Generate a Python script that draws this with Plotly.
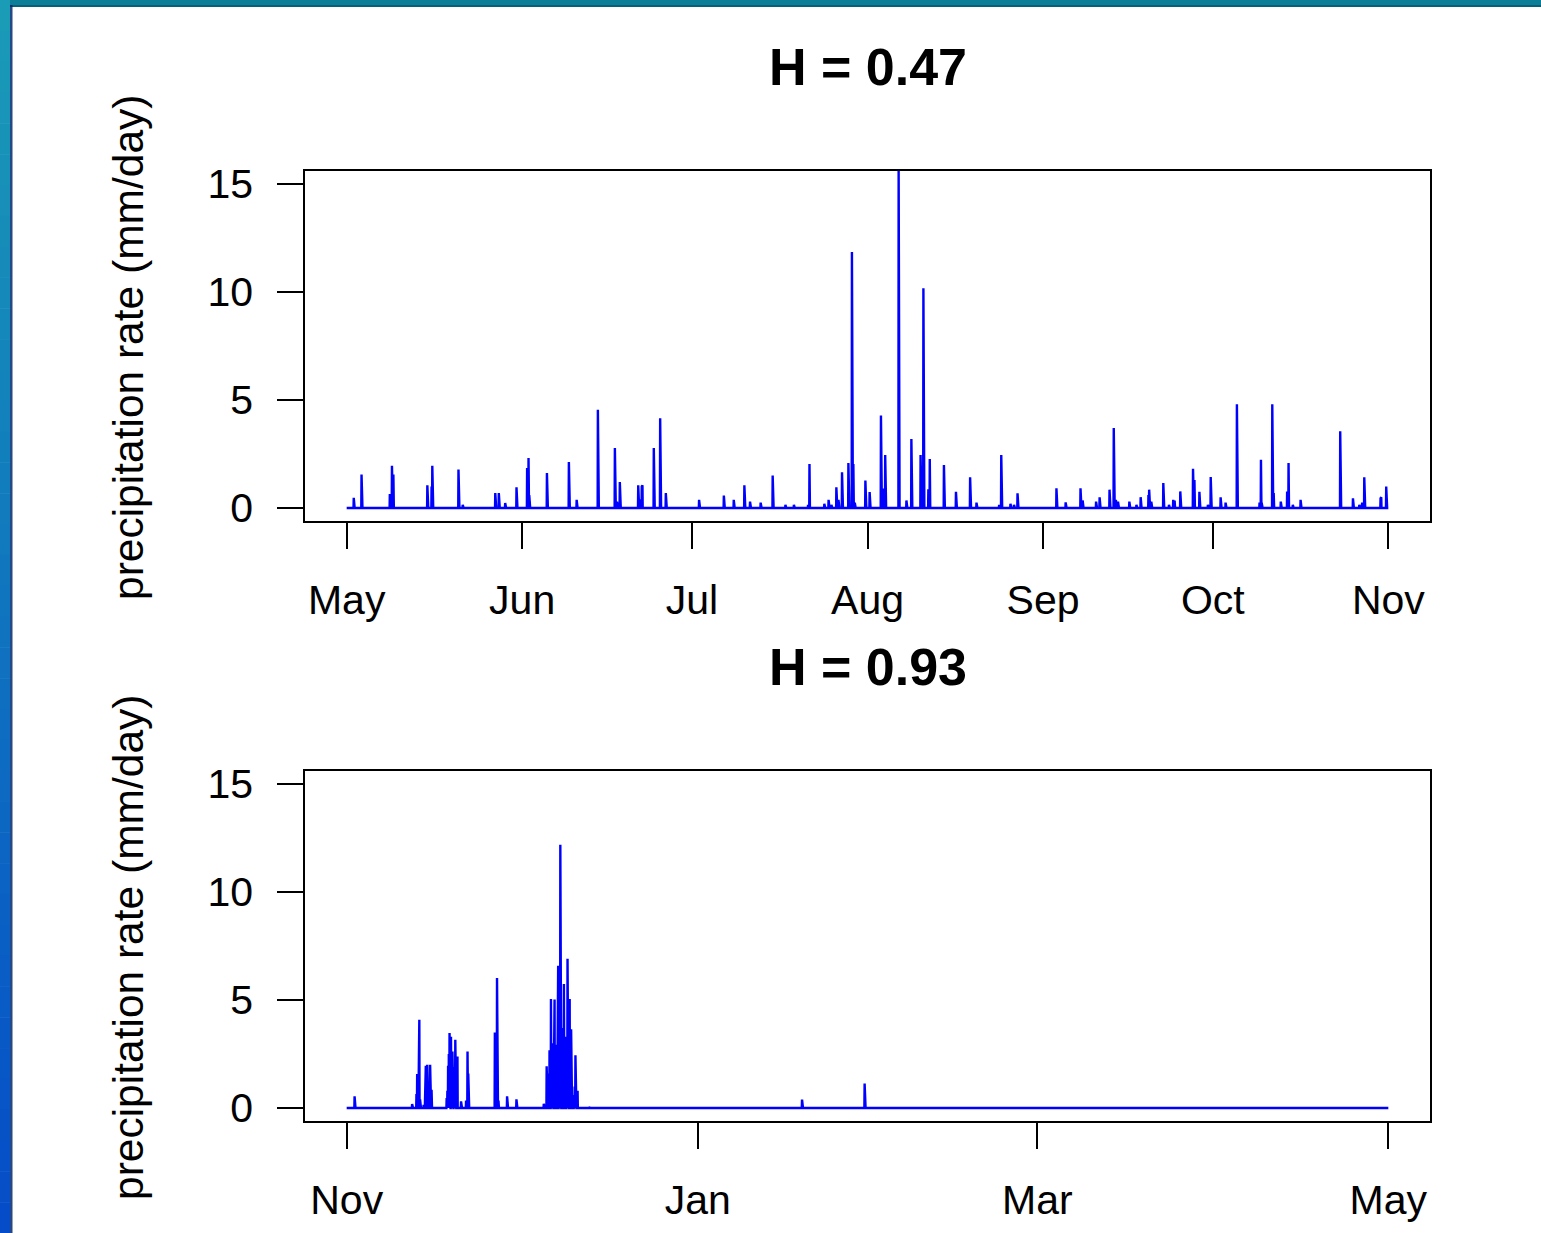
import pandas as pd
import plotly.graph_objects as go

# ---------------- data ----------------
top_title = "H = 0.47"
bottom_title = "H = 0.93"
y_label = "precipitation rate (mm/day)"

top_start, top_end = "2008-05-01", "2008-11-01"
bottom_start, bottom_end = "2008-11-01", "2009-05-01"

top_tick_dates = ["2008-05-01", "2008-06-01", "2008-07-01", "2008-08-01",
                  "2008-09-01", "2008-10-01", "2008-11-01"]
top_tick_labels = ["May", "Jun", "Jul", "Aug", "Sep", "Oct", "Nov"]
bottom_tick_dates = ["2008-11-01", "2009-01-01", "2009-03-01", "2009-05-01"]
bottom_tick_labels = ["Nov", "Jan", "Mar", "May"]
y_ticks = [0, 5, 10, 15]

top_event_times = [
    "2008-05-02 06:00", "2008-05-03 15:00", "2008-05-03 18:00", "2008-05-08 15:00",
    "2008-05-09 00:00", "2008-05-09 06:00", "2008-05-15 06:00", "2008-05-16 00:00",
    "2008-05-16 03:00", "2008-05-20 18:00", "2008-05-20 21:00", "2008-05-21 12:00",
    "2008-05-27 06:00", "2008-05-27 21:00", "2008-05-29 00:00", "2008-05-31 00:00",
    "2008-06-01 21:00", "2008-06-02 03:00", "2008-06-02 06:00", "2008-06-05 09:00",
    "2008-06-09 06:00", "2008-06-10 15:00", "2008-06-14 09:00", "2008-06-14 12:00",
    "2008-06-17 09:00", "2008-06-17 18:00", "2008-06-18 06:00", "2008-06-21 12:00",
    "2008-06-21 18:00", "2008-06-22 03:00", "2008-06-22 06:00", "2008-06-24 06:00",
    "2008-06-25 09:00", "2008-06-26 09:00", "2008-07-02 06:00", "2008-07-06 15:00",
    "2008-07-06 18:00", "2008-07-08 09:00", "2008-07-10 06:00", "2008-07-10 09:00",
    "2008-07-11 06:00", "2008-07-13 03:00", "2008-07-13 06:00", "2008-07-15 06:00",
    "2008-07-15 09:00", "2008-07-17 12:00", "2008-07-19 00:00", "2008-07-21 12:00",
    "2008-07-21 18:00", "2008-07-24 09:00", "2008-07-25 03:00", "2008-07-25 15:00",
    "2008-07-26 12:00", "2008-07-26 21:00", "2008-07-27 12:00", "2008-07-28 15:00",
    "2008-07-28 18:00", "2008-07-29 06:00", "2008-07-29 12:00", "2008-07-29 18:00",
    "2008-07-31 15:00", "2008-08-01 09:00", "2008-08-03 09:00", "2008-08-03 18:00",
    "2008-08-04 03:00", "2008-08-06 12:00", "2008-08-06 15:00", "2008-08-07 21:00",
    "2008-08-08 18:00", "2008-08-08 21:00", "2008-08-10 09:00", "2008-08-10 12:00",
    "2008-08-10 21:00", "2008-08-11 18:00", "2008-08-12 00:00", "2008-08-14 12:00",
    "2008-08-16 15:00", "2008-08-19 03:00", "2008-08-20 06:00", "2008-08-24 06:00",
    "2008-08-24 15:00", "2008-08-24 18:00", "2008-08-26 06:00", "2008-08-26 21:00",
    "2008-08-27 12:00", "2008-09-03 09:00", "2008-09-03 12:00", "2008-09-05 00:00",
    "2008-09-07 15:00", "2008-09-08 00:00", "2008-09-10 09:00", "2008-09-11 00:00",
    "2008-09-12 18:00", "2008-09-13 12:00", "2008-09-13 21:00", "2008-09-14 06:00",
    "2008-09-16 06:00", "2008-09-17 12:00", "2008-09-18 06:00", "2008-09-19 15:00",
    "2008-09-19 18:00", "2008-09-20 03:00", "2008-09-22 06:00", "2008-09-22 09:00",
    "2008-09-23 06:00", "2008-09-24 00:00", "2008-09-24 06:00", "2008-09-25 06:00",
    "2008-09-27 12:00", "2008-09-27 18:00", "2008-09-28 15:00", "2008-09-30 03:00",
    "2008-09-30 15:00", "2008-09-30 18:00", "2008-10-02 09:00", "2008-10-03 06:00",
    "2008-10-05 06:00", "2008-10-09 06:00", "2008-10-09 12:00", "2008-10-09 15:00",
    "2008-10-11 12:00", "2008-10-11 18:00", "2008-10-13 00:00", "2008-10-14 03:00",
    "2008-10-14 09:00", "2008-10-15 03:00", "2008-10-16 12:00", "2008-10-23 12:00",
    "2008-10-25 18:00", "2008-10-26 21:00", "2008-10-27 09:00", "2008-10-27 18:00",
    "2008-10-30 15:00", "2008-10-30 18:00", "2008-10-31 15:00", "2008-10-31 18:00",
]
top_event_values = [
    0.47, 1.55, 1.5, 0.65,
    1.96, 1.55, 1.05, 1.0,
    1.96, 1.78, 0.9, 0.15,
    0.69, 0.69, 0.23, 0.96,
    1.85, 2.31, 0.6, 1.62,
    2.13, 0.38, 4.55, 0.4,
    2.78, 0.3, 1.2, 1.05,
    0.4, 1.0, 1.05, 2.78,
    4.16, 0.69, 0.38, 0.58,
    0.2, 0.38, 1.05, 0.35,
    0.3, 0.25, 0.25, 1.51,
    0.7, 0.15, 0.15, 0.15,
    2.04, 0.2, 0.38, 0.15,
    0.96, 0.38, 1.66, 2.08,
    1.5, 11.85, 2.04, 0.25,
    1.27, 0.74, 4.28, 0.9,
    2.45, 15.6, 0.69, 0.35,
    3.19, 0.6, 2.45, 2.4,
    10.17, 0.87, 2.27, 1.99,
    0.75, 1.42, 0.25, 0.15,
    2.45, 1.25, 0.2, 0.15,
    0.68, 0.91, 0.4, 0.26,
    0.91, 0.35, 0.3, 0.5,
    0.85, 3.7, 0.38, 0.3,
    0.3, 0.15, 0.5, 0.6,
    0.85, 0.3, 1.16, 1.0,
    0.15, 0.38, 0.35, 0.77,
    1.82, 1.3, 0.75, 0.15,
    1.44, 0.4, 0.5, 0.25,
    4.8, 0.25, 2.24, 0.25,
    4.8, 0.69, 0.3, 0.77,
    2.08, 0.15, 0.38, 3.55,
    0.45, 0.15, 0.25, 1.42,
    0.45, 0.5, 1.0, 0.15,
]

bottom_event_times = [
    "2008-11-02 09:00", "2008-11-12 09:00", "2008-11-13 03:00", "2008-11-13 06:00",
    "2008-11-13 12:00", "2008-11-13 15:00", "2008-11-13 18:00", "2008-11-14 09:00",
    "2008-11-14 15:00", "2008-11-14 18:00", "2008-11-14 21:00", "2008-11-15 00:00",
    "2008-11-15 03:00", "2008-11-15 06:00", "2008-11-15 09:00", "2008-11-15 12:00",
    "2008-11-15 18:00", "2008-11-18 09:00", "2008-11-18 12:00", "2008-11-18 15:00",
    "2008-11-18 18:00", "2008-11-18 21:00", "2008-11-19 00:00", "2008-11-19 03:00",
    "2008-11-19 06:00", "2008-11-19 09:00", "2008-11-19 12:00", "2008-11-19 15:00",
    "2008-11-19 18:00", "2008-11-19 21:00", "2008-11-20 00:00", "2008-11-20 03:00",
    "2008-11-20 06:00", "2008-11-20 21:00", "2008-11-21 18:00", "2008-11-22 00:00",
    "2008-11-22 03:00", "2008-11-26 18:00", "2008-11-26 21:00", "2008-11-27 00:00",
    "2008-11-27 03:00", "2008-11-27 09:00", "2008-11-28 21:00", "2008-11-30 12:00",
    "2008-12-05 06:00", "2008-12-05 18:00", "2008-12-05 21:00", "2008-12-06 00:00",
    "2008-12-06 03:00", "2008-12-06 06:00", "2008-12-06 09:00", "2008-12-06 12:00",
    "2008-12-06 15:00", "2008-12-06 18:00", "2008-12-06 21:00", "2008-12-07 00:00",
    "2008-12-07 03:00", "2008-12-07 06:00", "2008-12-07 09:00", "2008-12-07 12:00",
    "2008-12-07 15:00", "2008-12-07 18:00", "2008-12-07 21:00", "2008-12-08 00:00",
    "2008-12-08 03:00", "2008-12-08 06:00", "2008-12-08 09:00", "2008-12-08 12:00",
    "2008-12-08 15:00", "2008-12-08 18:00", "2008-12-08 21:00", "2008-12-09 00:00",
    "2008-12-09 03:00", "2008-12-09 06:00", "2008-12-09 09:00", "2008-12-09 12:00",
    "2008-12-09 15:00", "2008-12-09 18:00", "2008-12-09 21:00", "2008-12-10 00:00",
    "2008-12-10 03:00", "2008-12-10 06:00", "2008-12-10 09:00", "2008-12-10 12:00",
    "2008-12-10 15:00", "2008-12-10 18:00", "2008-12-10 21:00", "2008-12-11 00:00",
    "2008-12-11 03:00", "2008-12-13 03:00", "2009-01-19 03:00", "2009-01-30 00:00",
]
bottom_event_values = [
    0.54, 0.18, 0.65, 1.57,
    4.09, 4.09, 0.4, 0.15,
    0.6, 1.96, 0.7, 2.0,
    1.08, 0.5, 1.2, 2.0,
    0.85, 0.46, 0.8, 1.96,
    2.5, 3.47, 2.0, 3.3,
    1.5, 2.62, 1.0, 1.9,
    1.2, 3.16, 1.5, 0.8,
    2.39, 0.31, 0.35, 2.62,
    1.6, 3.5, 3.3, 1.0,
    6.02, 0.35, 0.54, 0.4,
    0.2, 1.93, 1.2, 0.7,
    1.6, 2.68, 2.2, 5.05,
    2.5, 3.0, 2.0, 2.6,
    5.02, 2.2, 2.93, 2.4,
    3.2, 6.59, 2.8, 3.4,
    12.19, 2.9, 3.7, 3.1,
    2.7, 5.74, 2.85, 2.5,
    3.3, 2.2, 6.91, 2.6,
    3.0, 5.05, 2.0, 3.65,
    1.2, 0.6, 0.6, 0.4,
    1.0, 2.44, 0.5, 0.3,
    0.8, 0.05, 0.39, 1.13,
]

# ---------------- build series (hourly, zero between events) ----------------
def build_series(start, end, times, values):
    idx = pd.date_range(start, end, freq="1h")
    s = pd.Series(0.0, index=idx)
    for t, v in zip(times, values):
        ts = pd.Timestamp(t)
        s.loc[ts] = max(s.loc[ts], v)
    return s

top_series = build_series(top_start, top_end, top_event_times, top_event_values)
bottom_series = build_series(bottom_start, bottom_end, bottom_event_times, bottom_event_values)

def padded_range(start, end, frac=0.04):
    a, b = pd.Timestamp(start), pd.Timestamp(end)
    pad = (b - a) * frac
    return [a - pad, b + pad]

# ---------------- layout geometry (pixels) ----------------
W, H = 1541, 1233
def px(x): return x / W
def py(y): return 1 - y / H

FONT = "Liberation Sans, Arial, Helvetica, sans-serif"
LINE_BLUE = "#0000ff"

fig = go.Figure()
fig.add_trace(go.Scatter(x=top_series.index, y=top_series.values, mode="lines",
                         line=dict(color=LINE_BLUE, width=2.4), xaxis="x", yaxis="y",
                         showlegend=False, hoverinfo="x+y"))
fig.add_trace(go.Scatter(x=bottom_series.index, y=bottom_series.values, mode="lines",
                         line=dict(color=LINE_BLUE, width=2.4), xaxis="x2", yaxis="y2",
                         showlegend=False, hoverinfo="x+y"))

axis_common = dict(showline=True, mirror=True, linecolor="black", linewidth=1.5,
                   ticks="outside", ticklen=26, tickwidth=1.5, tickcolor="black",
                   showgrid=False, zeroline=False, automargin=False,
                   tickfont=dict(family=FONT, size=41, color="black"))

xdom = [px(305), px(1430)]
fig.update_layout(
    width=W, height=H, template="none",
    margin=dict(l=0, r=0, t=0, b=0),
    paper_bgcolor="white", plot_bgcolor="white",
    xaxis=dict(domain=xdom, anchor="y", type="date",
               range=padded_range(top_start, top_end),
               tickvals=top_tick_dates, ticktext=top_tick_labels,
               ticklabelstandoff=16, **axis_common),
    yaxis=dict(domain=[py(521), py(171)], anchor="x", range=[-0.6, 15.6],
               tickvals=y_ticks, ticklabelstandoff=16, **axis_common),
    xaxis2=dict(domain=xdom, anchor="y2", type="date",
                range=padded_range(bottom_start, bottom_end),
                tickvals=bottom_tick_dates, ticktext=bottom_tick_labels,
                ticklabelstandoff=16, **axis_common),
    yaxis2=dict(domain=[py(1121), py(771)], anchor="x2", range=[-0.6, 15.6],
                tickvals=y_ticks, ticklabelstandoff=16, **axis_common),
)

# titles and y labels
for title, ycen in [(top_title, 67), (bottom_title, 667)]:
    fig.add_annotation(text=f"<b>{title}</b>", x=px(867.5), y=py(ycen), xref="paper", yref="paper",
                       showarrow=False, xanchor="center", yanchor="middle",
                       font=dict(family=FONT, size=52, color="black"))
for ycen in [347, 947]:
    fig.add_annotation(text=y_label, textangle=-90, x=px(128), y=py(ycen), xref="paper", yref="paper",
                       showarrow=False, xanchor="center", yanchor="middle",
                       font=dict(family=FONT, size=42.5, color="black"))

# slide frame: top teal strip and left teal-to-blue gradient strip
shapes = []
shapes.append(dict(type="rect", xref="paper", yref="paper", x0=0, x1=1, y0=py(6), y1=1,
                   fillcolor="#0b7f98", line=dict(width=0), layer="above"))
shapes.append(dict(type="rect", xref="paper", yref="paper", x0=0, x1=1, y0=py(7), y1=py(5),
                   fillcolor="#06607a", line=dict(width=0), layer="above"))
c_top = (0x1a, 0x9c, 0xb6)
c_bot = (0x05, 0x4c, 0xc8)
n = 40
for i in range(n):
    f = (i + 0.5) / n
    c = tuple(int(round(a + (b - a) * f)) for a, b in zip(c_top, c_bot))
    y0 = H * i / n
    y1 = H * (i + 1) / n
    shapes.append(dict(type="rect", xref="paper", yref="paper", x0=0, x1=px(10),
                       y0=py(y1 + 0.5), y1=py(y0), fillcolor="rgb(%d,%d,%d)" % c,
                       line=dict(width=0), layer="above"))
shapes.append(dict(type="rect", xref="paper", yref="paper", x0=px(10), x1=px(12.5), y0=0, y1=py(5),
                   fillcolor="rgba(0,40,110,0.85)", line=dict(width=0), layer="above"))
fig.update_layout(shapes=shapes)

fig.write_html("out.html")
